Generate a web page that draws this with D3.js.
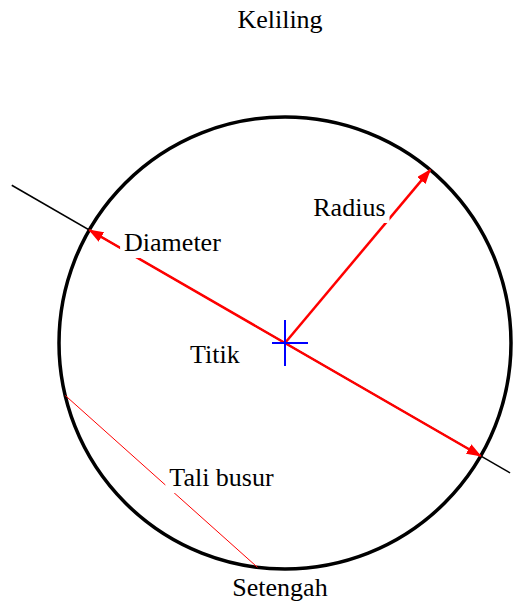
<!DOCTYPE html>
<html lang="id">
<head>
  <meta charset="UTF-8">
  <style>
    body { margin: 0; background: #fff; }
    text { font-family: "Liberation Serif", "Times New Roman", serif; font-size: 26px; fill: #000; }
  </style>
</head>
<body>
  <svg class="chart"></svg>
  <script src="https://cdnjs.cloudflare.com/ajax/libs/d3/7.8.5/d3.min.js"></script>
  <script>
    // geometry in circle units (radius = 1, centre at 0,0), angles in degrees
    const circleRadius = 1
    const diameterAngle = -30
    const diameterExtent = [-1.396, 1.15]   // black line beyond the circle
    const radiusAngle = 50
    const chordAngles = [193.4, 263]

    // labels: text and anchor in circle units (centre x, baseline y)
    const labelNames = ['Keliling', 'Radius', 'Diameter', 'Titik', 'Tali busur', 'Setengah']
    const labelX = [-0.022, 0.285, -0.498, -0.310, -0.281, -0.022]
    const labelY = [1.394, 0.562, 0.407, -0.088, -0.633, -1.119]
    const labelBoxed = [false, true, true, false, true, false]

    const chart = { width: 513, height: 608 }

    const x = d3.scaleLinear().domain([-1, 1]).range([59, 511])
    const y = d3.scaleLinear().domain([-1, 1]).range([569, 117])

    const rad = d => d * Math.PI / 180
    const onCircle = (a, t = circleRadius) => [Math.cos(rad(a)) * t, Math.sin(rad(a)) * t]

    const svg = d3.select('.chart')
      .attr('width', chart.width)
      .attr('height', chart.height)

    const defs = svg.append('defs')
    defs.append('marker')
        .attr('id', 'head')
        .attr('markerUnits', 'userSpaceOnUse')
        .attr('viewBox', '0 0 15 11')
        .attr('markerWidth', 15)
        .attr('markerHeight', 11)
        .attr('refX', 14)
        .attr('refY', 5.5)
        .attr('orient', 'auto-start-reverse')
      .append('path')
        .attr('d', 'M0,0L15,5.5L0,11Z')
        .attr('fill', 'red')

    const line = d3.line().x(d => x(d[0])).y(d => y(d[1]))

    // black line through the diameter
    svg.append('path')
      .attr('d', line(diameterExtent.map(t => onCircle(diameterAngle, t))))
      .attr('stroke', '#000')
      .attr('stroke-width', 1.5)
      .attr('fill', 'none')

    // the circle
    svg.append('circle')
      .attr('cx', x(0))
      .attr('cy', y(0))
      .attr('r', x(circleRadius) - x(0))
      .attr('stroke', '#000')
      .attr('stroke-width', 3.5)
      .attr('fill', 'none')

    // diameter arrow (both ends)
    svg.append('path')
      .attr('d', line([onCircle(diameterAngle + 180), onCircle(diameterAngle)]))
      .attr('stroke', 'red')
      .attr('stroke-width', 2.5)
      .attr('fill', 'none')
      .attr('marker-start', 'url(#head)')
      .attr('marker-end', 'url(#head)')

    // radius arrow
    svg.append('path')
      .attr('d', line([[0, 0], onCircle(radiusAngle)]))
      .attr('stroke', 'red')
      .attr('stroke-width', 2.5)
      .attr('fill', 'none')
      .attr('marker-end', 'url(#head)')

    // chord
    svg.append('path')
      .attr('d', line(chordAngles.map(a => onCircle(a))))
      .attr('stroke', 'red')
      .attr('stroke-width', 1)
      .attr('fill', 'none')

    // labels
    const labels = svg.selectAll('g.label')
      .data(labelNames)
      .enter().append('g')
        .attr('class', 'label')

    labels.append('rect')
    labels.append('text')
      .attr('x', (d, i) => x(labelX[i]))
      .attr('y', (d, i) => y(labelY[i]))
      .attr('text-anchor', 'middle')
      .text(d => d)

    labels.each(function (d, i) {
      const g = d3.select(this)
      if (!labelBoxed[i]) { g.select('rect').remove(); return }
      const b = g.select('text').node().getBBox()
      g.select('rect')
        .attr('x', b.x - 4)
        .attr('y', b.y - 2)
        .attr('width', b.width + 8)
        .attr('height', b.height + 3)
        .attr('fill', '#fff')
    })

    // centre mark
    const cross = svg.append('g')
      .attr('stroke', 'blue')
      .attr('stroke-width', 2)
    cross.append('line')
      .attr('x1', x(0)).attr('x2', x(0))
      .attr('y1', y(0) - 23).attr('y2', y(0) + 23)
    cross.append('line')
      .attr('x1', x(0) - 13).attr('x2', x(0) + 23)
      .attr('y1', y(0)).attr('y2', y(0))
  </script>
</body>
</html>
